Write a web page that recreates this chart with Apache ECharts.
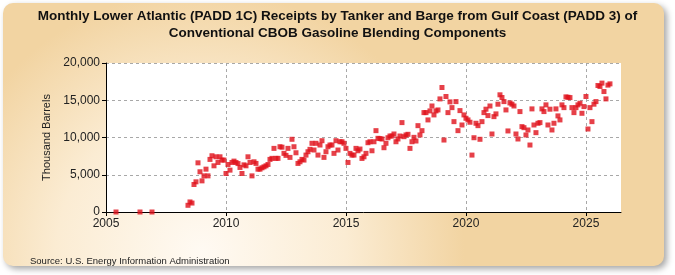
<!DOCTYPE html>
<html>
<head>
<meta charset="utf-8">
<script src="https://cdn.jsdelivr.net/npm/echarts@6/dist/echarts.min.js"></script>
<style>
  html, body { margin: 0; padding: 0; background: #fff; }
  #chart { width: 675px; height: 275px; }
</style>
</head>
<body>
<div id="chart"></div>
<script>
// isolated early months
const earlyMonths = ['2005-06', '2006-06', '2006-12'];
const earlyValues = [0, 0, 0];

// continuous monthly run, Jun 2008 .. Jan 2026 (thousand barrels)
const firstMonth = '2008-06';
const receipts = [
  900, 1350, 1200, 3690, 4050, 6600, 5400,
  4180, 4850, 5750, 4850, 7060, 7550, 6200, 7410, 6650, 7410, 6970, 6970,
  5170, 6380, 5620, 6650, 6830, 6650, 6500, 5980, 5170, 6330, 6200, 7410,
  6650, 4850, 6740, 6520, 5750, 5750, 5930, 6060, 6200, 6380, 7060, 7200,
  8540, 7200, 7200, 8760, 8700, 7870, 7600, 8540, 7330, 9760, 8760, 7950,
  6520, 6740, 7060, 6970, 7640, 8090, 8410, 9220, 8320, 9220, 7640, 8990,
  9570, 7330, 8090, 8760, 8990, 8990, 7870, 9570, 8320, 9430, 9430, 9220,
  8540, 6650, 7870, 7640, 7640, 8540, 8220, 8450, 7190, 7410, 7870, 9300,
  9430, 8220, 9430, 10920, 9890, 9850, 9800, 8630, 9220, 9970, 10200, 10200,
  10470, 9430, 9800, 10200, 12000, 10110, 10340, 10430, 8540, 9430, 10020, 9530,
  11590, 10340, 10920, 13340, 13340, 12360, 13570, 14230, 13030, 13570, 13700, 15180,
  16710, 9660, 15500, 13340, 14780, 14010, 12130, 14820, 10920, 13610, 11680, 13030,
  12580, 12360, 12050, 7640, 9970, 11910, 11590, 9760, 12130, 13340, 13800, 12940,
  14230, 10470, 12800, 13170, 14470, 15730, 15370, 14820, 13700, 10880, 14640, 14470,
  14230, 10470, 9800, 13480, 11460, 11320, 10340, 11010, 8990, 13840, 11680, 10650,
  11910, 12000, 13840, 13480, 14380, 11680, 13800, 11010, 11910, 13840, 12900, 12360,
  14380, 14010, 15450, 15400, 15360, 14010, 13340, 14010, 14380, 14600, 13250, 14150,
  15500, 11140, 14010, 12130, 14470, 14820, 16980, 16850, 17300, 16170, 15180, 17030,
  17200
];

const yTicks = [0, 5000, 10000, 15000, 20000];
const xTicks = [2005, 2010, 2015, 2020, 2025];

function toYear(m) {
  const [y, mo] = m.split('-').map(Number);
  return y + (mo - 1) / 12;
}

const points = earlyMonths.map((m, i) => [toYear(m), earlyValues[i]]);
const start = toYear(firstMonth);
receipts.forEach((v, i) => points.push([start + i / 12, v]));

const font = '"Liberation Sans Narrow", "Arial Narrow", "Liberation Sans", Arial, sans-serif';

let myChart = echarts.init(document.getElementById('chart'));
let option = {
  animation: false,
  graphic: [
    {
      type: 'rect',
      z: -10,
      shape: { x: 3, y: 3, width: 661, height: 263, r: 10 },
      style: {
        fill: {
          type: 'radial', x: 0.3, y: 0.95, r: 1.0,
          colorStops: [
            { offset: 0, color: '#fffaf3' },
            { offset: 0.55, color: '#fbecd3' },
            { offset: 1, color: '#f2d4a2' }
          ]
        },
        shadowBlur: 6,
        shadowOffsetX: 3,
        shadowOffsetY: 3,
        shadowColor: 'rgba(0,0,0,0.35)'
      }
    },
    {
      type: 'text',
      left: 30,
      top: 256,
      style: {
        text: 'Source: U.S. Energy Information Administration',
        font: '9.5px ' + font,
        fill: '#222'
      }
    }
  ],
  title: {
    text: 'Monthly Lower Atlantic (PADD 1C) Receipts by Tanker and Barge from Gulf Coast (PADD 3) of\nConventional CBOB Gasoline Blending Components',
    left: 'center',
    top: 3,
    textStyle: {
      fontFamily: font,
      fontSize: 13.5,
      fontWeight: 'bold',
      lineHeight: 17,
      color: '#111'
    }
  },
  grid: {
    left: 106,
    top: 63,
    width: 515,
    height: 149,
    show: true,
    backgroundColor: '#fff',
    borderWidth: 0
  },
  xAxis: {
    type: 'value',
    min: 2005,
    max: 2026.46,
    interval: 5,
    axisLine: { lineStyle: { color: '#000', width: 1 } },
    axisTick: { show: true, length: 4, lineStyle: { color: '#000' } },
    axisLabel: {
      fontFamily: font,
      fontSize: 12,
      color: '#222',
      margin: 6,
      showMaxLabel: false,
      formatter: v => (xTicks.includes(v) ? String(v) : '')
    },
    splitLine: {
      show: true,
      lineStyle: {
        type: [3, 3],
        color: ['#a8a8a8', '#a8a8a8', '#a8a8a8', '#a8a8a8', '#a8a8a8', 'rgba(0,0,0,0)']
      }
    }
  },
  yAxis: {
    type: 'value',
    min: 0,
    max: 20000,
    interval: 5000,
    name: 'Thousand Barrels',
    nameLocation: 'middle',
    nameGap: 54,
    nameTextStyle: { fontFamily: font, fontSize: 11, color: '#222' },
    axisLine: { show: true, lineStyle: { color: '#000', width: 1 } },
    axisTick: { show: true, length: 4, lineStyle: { color: '#000' } },
    axisLabel: {
      fontFamily: font,
      fontSize: 12,
      color: '#222',
      margin: 6,
      formatter: v => (yTicks.includes(v) ? v.toLocaleString('en-US') : '')
    },
    splitLine: { show: true, lineStyle: { type: [3, 3], color: '#a8a8a8' } }
  },
  series: [
    {
      name: 'Receipts',
      type: 'scatter',
      symbol: 'rect',
      symbolSize: 5,
      itemStyle: { color: '#e0101a' },
      data: points
    }
  ]
};
myChart.setOption(option);
</script>
</body>
</html>
